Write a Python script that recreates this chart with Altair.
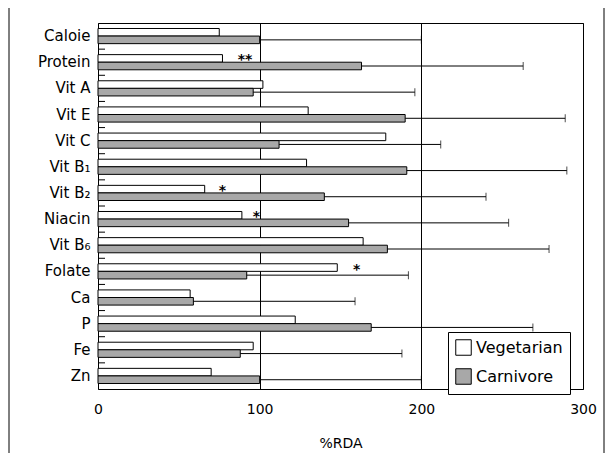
import altair as alt
import pandas as pd

categories = ["Caloie", "Protein", "Vit A", "Vit E", "Vit C", "Vit B\u2081", "Vit B\u2082",
              "Niacin", "Vit B\u2086", "Folate", "Ca", "P", "Fe", "Zn"]
vegetarian = [75, 77, 102, 130, 178, 129, 66, 89, 164, 148, 57, 122, 96, 70]
carnivore = [100, 163, 96, 190, 112, 191, 140, 155, 179, 92, 59, 169, 88, 100]
carn_upper = [200, 263, 196, 289, 212, 290, 240, 254, 279, 192, 159, 269, 188, 200]

sig_cats = ["Protein", "Vit B\u2082", "Niacin", "Folate"]
sig_x = [91, 77, 98, 160]
sig_text = ["**", "*", "*", "*"]

series = ["Vegetarian", "Carnivore"]

rows = []
for c, v, k in zip(categories, vegetarian, carnivore):
    rows.append({"cat": c, "series": "Vegetarian", "value": v})
    rows.append({"cat": c, "series": "Carnivore", "value": k})
bars_df = pd.DataFrame(rows)

err_df = pd.DataFrame({"cat": categories, "series": "Carnivore",
                       "low": carnivore, "high": carn_upper})
sig_df = pd.DataFrame({"cat": sig_cats, "series": "Vegetarian", "x": sig_x, "label": sig_text})
tick_df = pd.DataFrame({"cat": categories[:-1]})

FONT = "DejaVu Sans"
W, H = 485, 366
STEP = H / len(categories)

yscale = alt.Scale(domain=categories, paddingInner=0.42, paddingOuter=0.21)
yoff_scale = alt.Scale(domain=series, paddingInner=0, paddingOuter=0)
xscale = alt.Scale(domain=[0, 300], nice=False)

y_enc = alt.Y("cat:N", scale=yscale, sort=categories,
              axis=alt.Axis(title=None, ticks=False, domain=False, labelFontSize=15,
                            labelPadding=8, labelFont=FONT, labelColor="black"))
x_axis = alt.Axis(values=[0, 100, 200, 300], ticks=False, domain=False, grid=True,
                  gridColor="black", gridOpacity=1, gridWidth=1, labelFlush=False,
                  labelFontSize=14, labelFont=FONT, labelColor="black", labelPadding=13,
                  title="%RDA", titleFontSize=14, titleFont=FONT, titleFontWeight="normal",
                  titleColor="black", titlePadding=20)

bars = alt.Chart(bars_df).mark_bar(stroke="black", strokeWidth=1).encode(
    y=y_enc,
    yOffset=alt.YOffset("series:N", scale=yoff_scale, sort=series),
    x=alt.X("value:Q", scale=xscale, axis=x_axis),
    fill=alt.Fill("series:N", sort=series,
                  scale=alt.Scale(domain=series, range=["white", "#a8a8a8"]),
                  legend=alt.Legend(orient="none", legendX=350, legendY=309, title=None,
                                    fillColor="white", strokeColor="black", padding=7,
                                    symbolType="square", symbolSize=240,
                                    symbolStrokeColor="black", symbolStrokeWidth=1,
                                    labelFontSize=16, labelFont=FONT, labelColor="black",
                                    rowPadding=8, symbolOpacity=1)),
)

err_rule = alt.Chart(err_df).mark_rule(color="black", strokeWidth=1).encode(
    y=alt.Y("cat:N", scale=yscale, sort=categories),
    yOffset=alt.YOffset("series:N", scale=yoff_scale, sort=series),
    x=alt.X("low:Q", scale=xscale),
    x2="high:Q",
)
err_cap = alt.Chart(err_df).mark_tick(color="black", thickness=1, size=8, orient="vertical").encode(
    y=alt.Y("cat:N", scale=yscale, sort=categories),
    yOffset=alt.YOffset("series:N", scale=yoff_scale, sort=series),
    x=alt.X("high:Q", scale=xscale),
)

sig = alt.Chart(sig_df).mark_text(fontSize=14, fontWeight="bold", font=FONT, color="black",
                                  baseline="middle", dy=2).encode(
    y=alt.Y("cat:N", scale=yscale, sort=categories),
    yOffset=alt.YOffset("series:N", scale=yoff_scale, sort=series),
    x=alt.X("x:Q", scale=xscale),
    text="label:N",
)

inner_ticks = alt.Chart(tick_df).mark_rule(color="black", strokeWidth=1).encode(
    y=alt.Y("cat:N", scale=yscale, sort=categories),
    yOffset=alt.value(STEP * 0.79),
    x=alt.datum(0, scale=xscale),
    x2=alt.value(7),
)

frame = alt.Chart(alt.Data(values=[{"a": 1}])).mark_rect(
    filled=False, stroke="black", strokeWidth=1).encode(
    x=alt.value(-89), x2=alt.value(506), y=alt.value(-18), y2=alt.value(470))

chart = alt.layer(frame, bars, err_rule, err_cap, sig, inner_ticks).properties(
    width=W, height=H,
    autosize=alt.AutoSizeParams(type="none"),
    padding={"left": 90, "top": 15, "right": 22, "bottom": 64},
    background="white",
).configure_view(stroke="black", strokeWidth=1).configure_axis(labelFont=FONT)

chart.save("out.html", embed_options={"renderer": "svg", "actions": False})
